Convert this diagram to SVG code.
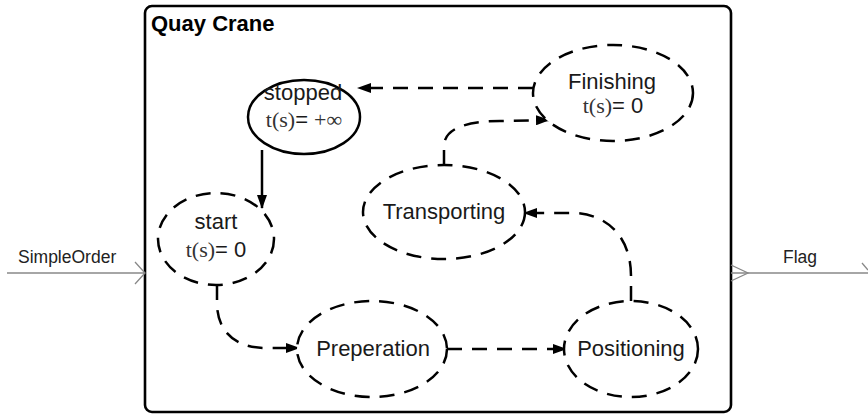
<svg xmlns="http://www.w3.org/2000/svg" width="868" height="414" viewBox="0 0 868 414">
<style>
.st{fill:#fff;stroke:#000;stroke-width:2.5}
.dash{stroke-dasharray:15 10}
.cn{fill:none;stroke:#000;stroke-width:2.5}
.lb{font-family:"Liberation Sans",Arial,sans-serif;font-size:22px;fill:#1a1a1a;text-anchor:middle}
.sf{font-family:"Liberation Serif","Times New Roman",serif;fill:#333}
.port{stroke:#888;stroke-width:1.3;fill:none}
.pl{font-family:"Liberation Sans",Arial,sans-serif;font-size:17.5px;fill:#222}
</style>
<defs>
<marker id="ah" markerWidth="14" markerHeight="10" refX="13" refY="5" orient="auto" markerUnits="userSpaceOnUse">
<path d="M0,0 L14,5 L0,10 z" fill="#000"/>
</marker>
</defs>
<rect width="868" height="414" fill="#fff"/>
<g id="container">
<rect x="145" y="6" width="586" height="406" rx="7" fill="none" stroke="#000" stroke-width="2.6"/>
<text x="151" y="31" font-family="Liberation Sans,Arial,sans-serif" font-size="22" font-weight="bold" fill="#000">Quay Crane</text>
</g>
<g id="ports">
<line class="port" x1="7" y1="273" x2="145" y2="273"/>
<polyline class="port" points="135,262 145,273 135,284"/>
<text class="pl" x="18" y="263">SimpleOrder</text>
<line class="port" x1="731" y1="273" x2="868" y2="273"/>
<polyline class="port" points="731,265 748,273 731,281"/>
<polyline class="port" points="862,263 868,270"/>
<text class="pl" x="783" y="263">Flag</text>
</g>
<g id="connectors">
<line class="cn dash" x1="533" y1="88" x2="358" y2="88" marker-end="url(#ah)"/>
<line class="cn" x1="262" y1="150" x2="262" y2="208" marker-end="url(#ah)"/>
<path class="cn dash" d="M217,285 L217,303 C217,332 236,348 266,348 L299,348" marker-end="url(#ah)"/>
<line class="cn dash" x1="447" y1="349" x2="566" y2="349" marker-end="url(#ah)"/>
<path class="cn dash" d="M631,301 L631,276 C631,236 606,213 572,213 L524,213" marker-end="url(#ah)"/>
<path class="cn dash" d="M444,165 L444,146 C444,129 466,121 500,121 L549,120" marker-end="url(#ah)"/>
</g>
<g id="stopped">
<ellipse class="st" cx="304" cy="117" rx="56" ry="37"/>
<text class="lb" x="303" y="100">stopped</text>
<text class="lb" x="304" y="127"><tspan class="sf">t(s)</tspan>= <tspan class="sf" fill="#666">+∞</tspan></text>
</g>
<g id="finishing">
<ellipse class="st dash" cx="613" cy="93" rx="80" ry="48"/>
<text class="lb" x="612" y="89">Finishing</text>
<text class="lb" x="613" y="113"><tspan class="sf">t(s)</tspan>= 0</text>
</g>
<g id="start">
<ellipse class="st dash" cx="216" cy="239" rx="58" ry="46"/>
<text class="lb" x="216" y="229">start</text>
<text class="lb" x="216" y="257"><tspan class="sf">t(s)</tspan>= 0</text>
</g>
<g id="transporting">
<ellipse class="st dash" cx="444" cy="212" rx="81" ry="47"/>
<text class="lb" x="444" y="219">Transporting</text>
</g>
<g id="preperation">
<ellipse class="st dash" cx="372" cy="349" rx="75" ry="48"/>
<text class="lb" x="373" y="356">Preperation</text>
</g>
<g id="positioning">
<ellipse class="st dash" cx="631" cy="349" rx="67" ry="48"/>
<text class="lb" x="631" y="356" font-size="20">Positioning</text>
</g>
</svg>
